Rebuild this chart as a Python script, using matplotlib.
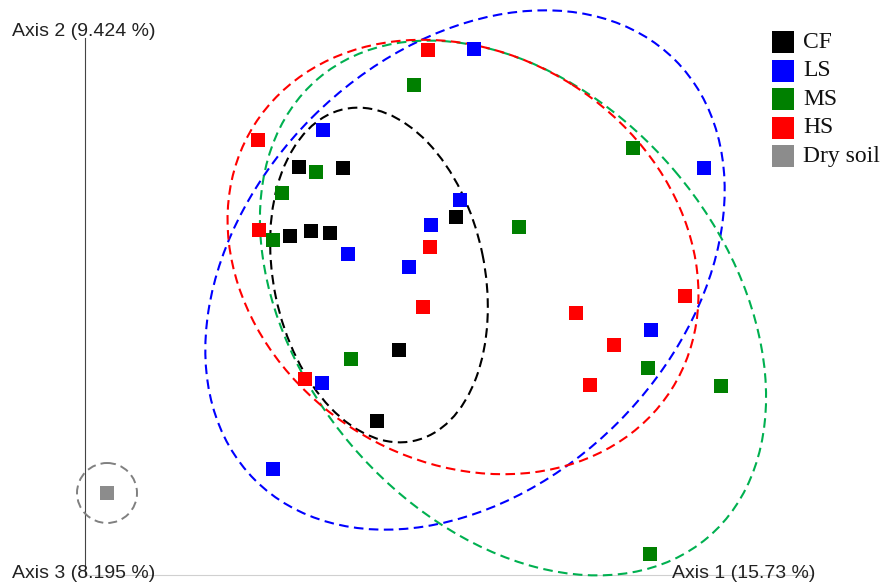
import matplotlib.pyplot as plt
from matplotlib.patches import Ellipse, Circle

# ---------------- sample coordinates (projected PCoA space) ----------------
cf_x = [299, 343, 290, 311, 330, 456, 399, 377]
cf_y = [167, 168, 236, 231, 233, 217, 350, 421]

ls_x = [474, 323, 460, 431, 348, 409, 704, 651, 322, 273]
ls_y = [49, 130, 200, 225, 254, 267, 168, 330, 383, 469]

ms_x = [414, 316, 282, 273, 519, 633, 351, 648, 721, 650]
ms_y = [85, 172, 193, 240, 227, 148, 359, 368, 386, 554]

hs_x = [428, 258, 259, 430, 423, 576, 685, 614, 590, 305]
hs_y = [50, 140, 230, 247, 307, 313, 296, 345, 385, 379]

dry_x = [107]
dry_y = [493]

groups = ['CF', 'LS', 'MS', 'HS', 'Dry soil']
colors = ['#000000', '#0000ff', '#008000', '#ff0000', '#8c8c8c']
ring_colors = ['#000000', '#0000ff', '#00b050', '#ff0000', '#808080']

# confidence ellipses: centre x, centre y, width, height, angle
ell_cx = [379, 465, 513, 463]
ell_cy = [275, 270, 308, 257]
ell_w = [339, 594, 602, 494]
ell_h = [211, 432, 424, 408]
ell_ang = [78.3, -45, 49.7, 32.4]
dry_r = 30

axis_labels = ['Axis 1 (15.73 %)', 'Axis 2 (9.424 %)', 'Axis 3 (8.195 %)']

# ---------------------------------------------------------------------------
fig = plt.figure(figsize=(8.83, 5.86), dpi=100)
ax = fig.add_axes([0, 0, 1, 1])
ax.set_xlim(0, 883)
ax.set_ylim(586, 0)
ax.axis('off')

# axes of the 3d view
ax.plot([85, 85], [38, 575], color='#444444', lw=0.8, zorder=1)
ax.plot([85, 813], [575, 575], color='#d0d0d0', lw=0.8, zorder=1)

dash = (0, (4.6, 2.6))
for i in range(4):
    e = Ellipse((ell_cx[i], ell_cy[i]), ell_w[i], ell_h[i], angle=ell_ang[i],
                fill=False, ec=ring_colors[i], lw=1.5, linestyle=dash, zorder=3)
    ax.add_patch(e)
ax.add_patch(Circle((dry_x[0], dry_y[0]), dry_r, fill=False, ec=ring_colors[4],
                    lw=1.4, linestyle=dash, zorder=3))

xs = [cf_x, ls_x, ms_x, hs_x, dry_x]
ys = [cf_y, ls_y, ms_y, hs_y, dry_y]
for x, y, c in zip(xs, ys, colors):
    ax.scatter(x, y, marker='s', s=112, c=c, linewidths=0, zorder=4)

# legend
for k, (g, c) in enumerate(zip(groups, colors)):
    yy = 42 + k * 28.6
    ax.scatter([783], [yy], marker='s', s=235, c=c, linewidths=0, zorder=5)
    ax.text(803, yy, g, fontsize=17, family='Liberation Serif',
            va='center', ha='left', color='#111111')

txt = dict(fontsize=14, family='Liberation Sans', color='#222222', va='center')
ax.text(672, 573, axis_labels[0], **txt)
ax.text(12, 32, axis_labels[1], **txt)
ax.text(12, 574, axis_labels[2], **txt)

fig.savefig('out.png', dpi=100)
